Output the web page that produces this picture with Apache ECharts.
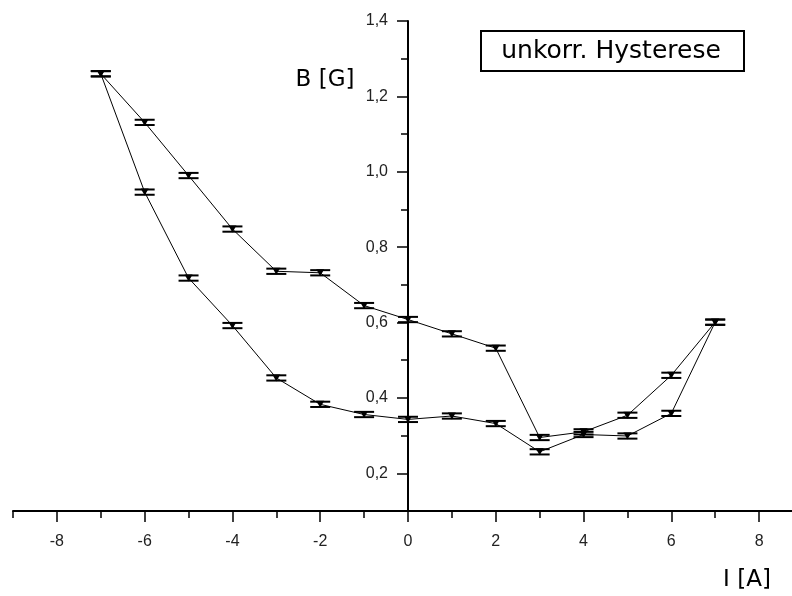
<!DOCTYPE html>
<html>
<head>
<meta charset="utf-8">
<script src="https://cdn.jsdelivr.net/npm/echarts@6/dist/echarts.min.js"></script>
<style>
  html, body { margin: 0; padding: 0; background: #fff; }
  #main { width: 792px; height: 596px; }
</style>
</head>
<body>
<div id="main"></div>
<script>
// Strom I [A]
var current = [-7, -6, -5, -4, -3, -2, -1, 0, 1, 2, 3, 4, 5, 6, 7];
// oberer und unterer Ast, B [G]
var upperBranch = [1.260, 1.131, 0.990, 0.848, 0.736, 0.732, 0.645, 0.608, 0.570, 0.532, 0.295, 0.310, 0.354, 0.460, 0.601];
var lowerBranch = [1.260, 0.946, 0.718, 0.592, 0.453, 0.383, 0.356, 0.343, 0.352, 0.332, 0.257, 0.303, 0.299, 0.359, 0.601];
// Fehler (symmetrisch)
var upperErr = [0.007, 0.007, 0.007, 0.007, 0.007, 0.007, 0.007, 0.007, 0.007, 0.007, 0.007, 0.007, 0.007, 0.007, 0.007];
var lowerErr = [0.007, 0.007, 0.007, 0.007, 0.007, 0.007, 0.007, 0.007, 0.007, 0.007, 0.007, 0.007, 0.007, 0.007, 0.007];

var xMajor = [-8, -6, -4, -2, 0, 2, 4, 6, 8];
var xMinor = [-9, -7, -5, -3, -1, 1, 3, 5, 7];
var yMajor = [0.2, 0.4, 0.6, 0.8, 1.0, 1.2, 1.4];
var yMinor = [0.3, 0.5, 0.7, 0.9, 1.1, 1.3];

var chartDom = document.getElementById('main');
var myChart = echarts.init(chartDom, null, { renderer: 'canvas' });

var W = 792;
var gridLeft = 13, gridTop = 21, gridBottom = 85;
var xMin = -9, xMax = 8.75, yMin = 0.1, yMax = 1.4;
// pixel position of x = 0, where the B axis sits
var zeroX = Math.round(gridLeft + (0 - xMin) / (xMax - xMin) * (W - gridLeft));

var labelFont = {
    color: '#222',
    fontFamily: 'Liberation Sans, Arial, sans-serif',
    fontSize: 16
};
var tickStyle = { color: '#000', width: 1.5 };

function pts(ys) {
    return current.map(function (x, i) { return [x, ys[i]]; });
}
function errPts(ys, es) {
    return current.map(function (x, i) { return [x, ys[i] - es[i], ys[i] + es[i]]; });
}

function renderErr(params, api) {
    var x = api.value(0);
    var lo = api.coord([x, api.value(1)]);
    var hi = api.coord([x, api.value(2)]);
    var hw = 10;
    var st = { stroke: '#000', lineWidth: 1 };
    var cap = { stroke: '#000', lineWidth: 2 };
    return {
        type: 'group',
        children: [
            { type: 'line', shape: { x1: lo[0], y1: lo[1], x2: hi[0], y2: hi[1] }, style: st },
            { type: 'line', shape: { x1: lo[0] - hw, y1: lo[1], x2: lo[0] + hw, y2: lo[1] }, style: cap },
            { type: 'line', shape: { x1: hi[0] - hw, y1: hi[1], x2: hi[0] + hw, y2: hi[1] }, style: cap }
        ]
    };
}

function lineSeries(name, ys) {
    return {
        name: name,
        type: 'line',
        xAxisIndex: 0,
        yAxisIndex: 0,
        data: pts(ys),
        symbol: 'triangle',
        symbolRotate: 180,
        symbolSize: [8, 7],
        itemStyle: { color: '#000' },
        lineStyle: { color: '#000', width: 1 },
        animation: false,
        z: 3
    };
}

function errSeries(ys, es) {
    return {
        type: 'custom',
        xAxisIndex: 0,
        yAxisIndex: 0,
        renderItem: renderErr,
        data: errPts(ys, es),
        encode: { x: 0, y: [1, 2] },
        animation: false,
        silent: true,
        z: 2
    };
}

function isEvenTenth(v) {
    var n = Math.round(v * 10);
    return n % 2 === 0 && n >= 2;
}

var option = {
    backgroundColor: '#fff',
    animation: false,
    grid: [
        // data area
        { left: gridLeft, right: 0, top: gridTop, bottom: gridBottom, containLabel: false, outerBoundsMode: 'none' },
        // B axis at I = 0
        { left: zeroX, right: 0, top: gridTop, bottom: gridBottom, containLabel: false, outerBoundsMode: 'none' }
    ],
    xAxis: [
        {
            gridIndex: 0, type: 'value', min: xMin, max: xMax, interval: 1, position: 'bottom',
            axisLine: { onZero: false, lineStyle: { color: '#000', width: 2 } },
            axisTick: { customValues: xMajor, length: 11, lineStyle: tickStyle },
            axisLabel: Object.assign({ customValues: xMajor, margin: 23 }, labelFont),
            splitLine: { show: false }
        },
        {
            gridIndex: 0, type: 'value', min: xMin, max: xMax, interval: 1, position: 'bottom',
            axisLine: { show: false, onZero: false },
            axisTick: { customValues: xMinor, length: 7, lineStyle: tickStyle },
            axisLabel: { show: false },
            splitLine: { show: false }
        },
        {
            gridIndex: 1, type: 'value', min: 0, max: 1, show: false
        }
    ],
    yAxis: [
        {
            gridIndex: 0, type: 'value', min: yMin, max: yMax, show: false
        },
        {
            gridIndex: 1, type: 'value', min: yMin, max: yMax, interval: 0.1, position: 'left',
            axisLine: { show: true, onZero: false, lineStyle: { color: '#000', width: 2 } },
            axisTick: { show: true, customValues: yMajor, length: 11, lineStyle: tickStyle },
            axisLabel: Object.assign({
                show: true, margin: 20,
                formatter: function (v) { return isEvenTenth(v) ? v.toFixed(1).replace('.', ',') : ''; }
            }, labelFont),
            splitLine: { show: false }
        },
        {
            gridIndex: 1, type: 'value', min: yMin, max: yMax, interval: 0.1, position: 'left',
            axisLine: { show: false, onZero: false },
            axisTick: { show: true, customValues: yMinor, length: 7, lineStyle: tickStyle },
            axisLabel: { show: false },
            splitLine: { show: false }
        }
    ],
    graphic: [
        {
            type: 'rect', left: 480, top: 30,
            shape: { width: 263, height: 40 },
            style: { fill: '#fff', stroke: '#000', lineWidth: 2 },
            z: 10
        },
        {
            type: 'text', x: 611, y: 51,
            style: {
                text: 'unkorr. Hysterese', fill: '#000',
                font: '25px "DejaVu Sans", sans-serif',
                align: 'center', verticalAlign: 'middle'
            },
            z: 11
        },
        {
            type: 'text', x: 325, y: 80,
            style: {
                text: 'B [G]', fill: '#000',
                font: '23px "DejaVu Sans", sans-serif',
                align: 'center', verticalAlign: 'middle'
            }
        },
        {
            type: 'text', x: 747, y: 580,
            style: {
                text: 'I [A]', fill: '#000',
                font: '23px "DejaVu Sans", sans-serif',
                align: 'center', verticalAlign: 'middle'
            }
        }
    ],
    series: [
        errSeries(upperBranch, upperErr),
        errSeries(lowerBranch, lowerErr),
        lineSeries('oben', upperBranch),
        lineSeries('unten', lowerBranch)
    ]
};

myChart.setOption(option);
</script>
</body>
</html>
